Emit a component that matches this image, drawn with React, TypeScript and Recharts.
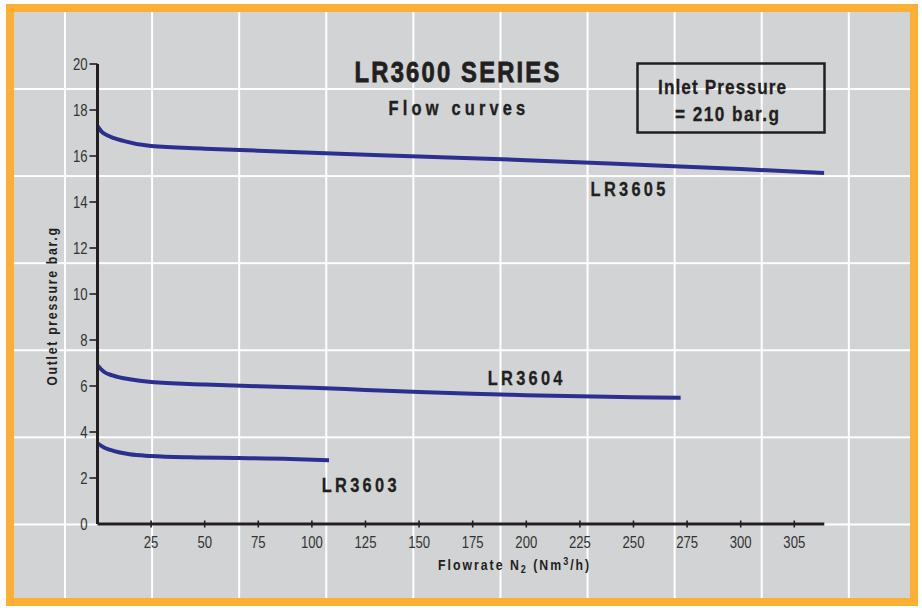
import { LineChart, Line, XAxis, YAxis, ReferenceDot } from "recharts";

// flow (Nm3/h) / outlet pressure (bar.g)
const lr3605Flow = [0, 2, 5, 12, 25, 50, 75, 100, 150, 200, 250, 300, 339];
const lr3605Pressure = [17.3, 17.05, 16.88, 16.66, 16.43, 16.32, 16.23, 16.14, 15.98, 15.82, 15.63, 15.43, 15.26];

const lr3604Flow = [0, 3, 7, 15, 25, 50, 75, 100, 125, 150, 175, 200, 225, 250, 272];
const lr3604Pressure = [6.9, 6.62, 6.46, 6.29, 6.17, 6.07, 5.99, 5.92, 5.83, 5.74, 5.66, 5.6, 5.55, 5.51, 5.49];

const lr3603Flow = [0, 3, 6, 15, 25, 43, 66, 90, 108];
const lr3603Pressure = [3.51, 3.33, 3.22, 3.03, 2.96, 2.9, 2.87, 2.83, 2.77];

const xTickValues = [25, 50, 75, 100, 125, 150, 175, 200, 225, 250, 275, 300, 325];
const xTickLabels = ["25", "50", "75", "100", "125", "150", "175", "200", "225", "250", "275", "300", "305"];
const yTickValues = [0, 2, 4, 6, 8, 10, 12, 14, 16, 18, 20];

const seriesNames = ["LR3605", "LR3604", "LR3603"];
// where each curve's name sits, in chart units (left edge, baseline)
const nameAnchors = [
  { x: 230, y: 14.28 },
  { x: 182, y: 6.04 },
  { x: 104.6, y: 1.38 },
];

const toPoints = (flow: number[], pressure: number[]) =>
  flow.map((f, i) => ({ flow: f, pressure: pressure[i] }));

const series = [
  toPoints(lr3605Flow, lr3605Pressure),
  toPoints(lr3604Flow, lr3604Pressure),
  toPoints(lr3603Flow, lr3603Pressure),
];

const FONT = '"Liberation Sans", Arial, Helvetica, sans-serif';
const INK = "#231f20";
const LINE = "#2b3090";
const X_TICK_GAP = 13;
const SQUEEZE = 0.82; // fake a condensed face

// horizontally squeezed text, so Liberation Sans looks like Helvetica Condensed
const CText = ({ x, y, size, bold, ls = 0, anchor = "start", fill = INK, heavy = 0, children }: any) => (
  <text
    transform={`translate(${x} ${y}) scale(${SQUEEZE} 1)`}
    textAnchor={anchor}
    fontFamily={FONT}
    fontSize={size}
    fontWeight={bold ? "bold" : "normal"}
    fill={fill}
    stroke={heavy ? fill : "none"}
    strokeWidth={heavy}
    style={{ letterSpacing: `${ls / SQUEEZE}px` }}
  >
    {children}
  </text>
);

const XTick = (props: any) => {
  const { x, y, payload } = props;
  const axisY = y - X_TICK_GAP;
  const label = xTickLabels[xTickValues.indexOf(payload.value)];
  return (
    <g>
      <line x1={x} x2={x} y1={axisY - 3.5} y2={axisY + 3.5} stroke={INK} strokeWidth={1.6} />
      <CText x={x} y={y + 11.3} size={16} anchor="middle" fill="#333">
        {label}
      </CText>
    </g>
  );
};

const YTick = (props: any) => {
  const { x, y, payload } = props;
  return (
    <g>
      {payload.value !== 0 && (
        <line x1={x + 2} x2={x + 10} y1={y} y2={y} stroke={INK} strokeWidth={1.6} />
      )}
      <CText x={x} y={y + 5.6} size={16} anchor="end" fill="#333">
        {payload.value}
      </CText>
    </g>
  );
};

const NameLabel = (text: string) => (props: any) => {
  const { viewBox } = props;
  return (
    <CText x={viewBox.x} y={viewBox.y} size={20} bold ls={3.3} heavy={0.3}>
      {text}
    </CText>
  );
};

export default function App() {
  return (
    <div style={{ position: "relative", width: 922, height: 610, background: "#fff" }}>
      <style>{`body{margin:0}`}</style>
      <div style={{ position: "absolute", left: 6, top: 4, width: 912, height: 602, background: "#fbb034" }} />
      <div
        style={{
          position: "absolute",
          left: 14,
          top: 12,
          width: 896,
          height: 586,
          backgroundColor: "#d1d3d4",
          backgroundImage:
            "linear-gradient(to right, #fff 2px, transparent 2px), linear-gradient(to bottom, #fff 2px, transparent 2px)",
          backgroundSize: "87.1px 87.1px",
          backgroundPosition: "50px 76px",
        }}
      />
      <div style={{ position: "absolute", left: 0, top: 0 }}>
        <LineChart
          width={922}
          height={610}
          margin={{ top: 64, right: 97.7, bottom: 56, left: 37.5 }}
        >
          <XAxis
            type="number"
            dataKey="flow"
            domain={[0, 339]}
            ticks={xTickValues}
            allowDataOverflow
            height={30}
            tickSize={0}
            tickMargin={X_TICK_GAP}
            tick={<XTick />}
            axisLine={{ stroke: INK, strokeWidth: 3 }}
            tickLine={false}
            interval={0}
          />
          <YAxis
            type="number"
            domain={[0, 20]}
            ticks={yTickValues}
            width={60}
            tickSize={8}
            tickMargin={2}
            tick={<YTick />}
            axisLine={{ stroke: INK, strokeWidth: 3 }}
            tickLine={false}
            interval={0}
          />
          {series.map((data, i) => (
            <Line
              key={seriesNames[i]}
              data={data}
              dataKey="pressure"
              type="monotone"
              stroke={LINE}
              strokeWidth={4}
              dot={false}
              isAnimationActive={false}
            />
          ))}
          {seriesNames.map((name, i) => (
            <ReferenceDot
              key={name}
              x={nameAnchors[i].x}
              y={nameAnchors[i].y}
              r={0}
              fill="none"
              stroke="none"
              ifOverflow="visible"
              label={NameLabel(name)}
            />
          ))}
        </LineChart>
      </div>
      <svg width={922} height={610} style={{ position: "absolute", left: 0, top: 0, pointerEvents: "none" }}>
        <CText x={458} y={82} size={29} bold ls={2.2} anchor="middle" heavy={0.8}>
          LR3600 SERIES
        </CText>
        <CText x={459} y={115} size={20} bold ls={4.2} anchor="middle" heavy={0.4}>
          Flow curves
        </CText>
        <rect x={637.5} y={63.5} width={187} height={69} fill="none" stroke={INK} strokeWidth={2.5} />
        <CText x={658} y={94} size={21} bold ls={1.1} heavy={0.3}>
          Inlet Pressure
        </CText>
        <CText x={675} y={121} size={21} bold ls={1.45} heavy={0.3}>
          = 210 bar.g
        </CText>
        <text
          transform={`translate(57 306) rotate(-90) scale(${SQUEEZE} 1)`}
          textAnchor="middle"
          fontFamily={FONT}
          fontSize={15}
          fontWeight="bold"
          fill={INK}
          style={{ letterSpacing: `${1.7 / SQUEEZE}px` }}
        >
          Outlet pressure bar.g
        </text>
        <CText x={438} y={570} size={15} bold ls={2}>
          Flowrate N<tspan fontSize={11} dy={3}>2</tspan>
          <tspan dy={-3}> (Nm</tspan>
          <tspan fontSize={11} dy={-5}>3</tspan>
          <tspan dy={5}>/h)</tspan>
        </CText>
      </svg>
    </div>
  );
}
